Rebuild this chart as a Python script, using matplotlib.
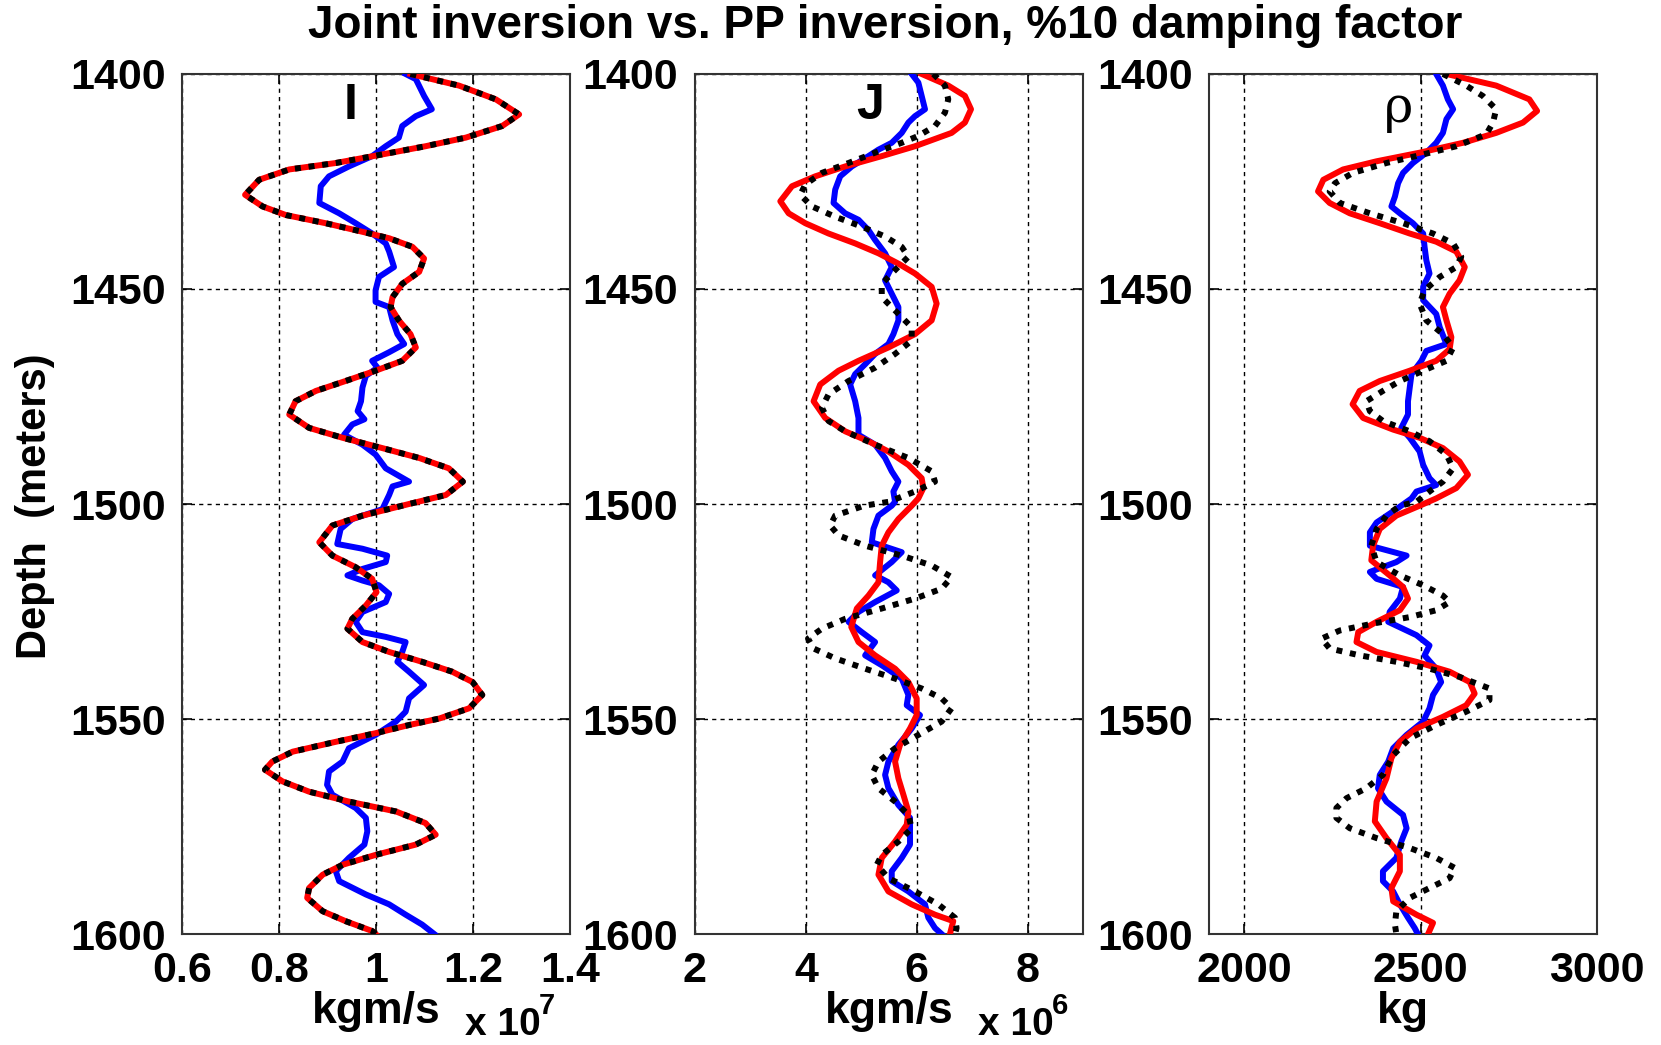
import numpy as np
import matplotlib
matplotlib.use('Agg')
import matplotlib.pyplot as plt

plt.rcParams['font.family'] = ['Liberation Sans', 'DejaVu Sans']
plt.rcParams['font.weight'] = 'bold'

# ---------------- panel I (x 10^7 kgm/s) ----------------
i_depth_inv = [1400.0, 1402.7, 1405.9, 1409.4, 1412.1, 1414.8, 1416.8, 1418.7, 1420.7, 1422.2,
               1424.6, 1428.1, 1430.8, 1432.8, 1434.7, 1436.7, 1438.2, 1440.2, 1442.9, 1446.0,
               1448.8, 1451.9, 1454.2, 1457.3, 1460.5, 1463.6, 1466.7, 1469.0, 1471.4, 1473.7,
               1476.1, 1479.2, 1482.3, 1484.6, 1487.0, 1489.3, 1491.7, 1494.8, 1497.9, 1500.0,
               1502.7, 1505.0, 1508.9, 1512.0, 1514.7, 1517.4, 1520.5, 1523.6, 1526.7, 1529.0,
               1532.1, 1534.4, 1536.7, 1539.0, 1541.4, 1544.4, 1547.5, 1549.9, 1551.4, 1553.3,
               1555.3, 1557.6, 1559.9, 1561.8, 1564.5, 1566.9, 1569.2, 1571.5, 1574.2, 1576.9,
               1579.2, 1581.6, 1583.9, 1586.2, 1589.3, 1591.6, 1594.7, 1597.0, 1599.3, 1600.0]
i_joint = [1.071, 1.171, 1.247, 1.295, 1.260, 1.185, 1.102, 1.013, 0.917, 0.821,
           0.759, 0.730, 0.766, 0.814, 0.896, 0.972, 1.027, 1.075, 1.099, 1.089,
           1.054, 1.034, 1.030, 1.047, 1.071, 1.082, 1.054, 0.999, 0.937, 0.876,
           0.834, 0.821, 0.862, 0.931, 1.013, 1.089, 1.150, 1.179, 1.144, 1.068,
           0.972, 0.910, 0.883, 0.910, 0.958, 0.992, 1.001, 0.979, 0.951, 0.941,
           0.972, 1.027, 1.095, 1.157, 1.199, 1.219, 1.192, 1.130, 1.068, 0.999,
           0.917, 0.828, 0.786, 0.771, 0.807, 0.862, 0.944, 1.041, 1.102, 1.123,
           1.082, 0.999, 0.931, 0.890, 0.862, 0.858, 0.890, 0.937, 0.992, 0.999]
i_pp = list(i_joint)  # PP result sits exactly on the joint result here

i_depth_log = [1400.0, 1401.2, 1405.1, 1408.2, 1409.8, 1412.1, 1414.8, 1416.8, 1419.1, 1421.5,
               1423.8, 1426.1, 1430.0, 1432.4, 1434.7, 1437.1, 1439.4, 1441.3, 1444.9, 1447.2,
               1450.3, 1453.0, 1454.2, 1457.3, 1460.5, 1462.8, 1464.7, 1466.7, 1468.3, 1470.2,
               1472.9, 1476.1, 1478.4, 1480.3, 1481.5, 1483.9, 1486.2, 1488.5, 1491.7, 1494.8,
               1495.9, 1497.9, 1501.2, 1503.5, 1505.8, 1509.3, 1510.4, 1512.0, 1513.5, 1515.1,
               1516.6, 1517.8, 1518.9, 1520.9, 1522.8, 1525.1, 1527.4, 1529.8, 1530.9, 1532.1,
               1534.4, 1536.7, 1539.0, 1542.1, 1545.2, 1548.3, 1550.6, 1553.7, 1556.8, 1559.9,
               1562.2, 1565.3, 1567.6, 1570.7, 1573.0, 1576.1, 1579.2, 1582.3, 1585.4, 1587.7,
               1590.8, 1593.1, 1595.5, 1597.8, 1600.0]
i_log = [1.061, 1.082, 1.099, 1.115, 1.082, 1.054, 1.047, 1.020, 0.992, 0.944,
         0.903, 0.886, 0.883, 0.924, 0.958, 0.992, 1.020, 1.027, 1.037, 1.006,
         0.999, 0.999, 1.027, 1.034, 1.044, 1.058, 1.027, 0.992, 1.003, 0.979,
         0.972, 0.969, 0.962, 0.976, 0.951, 0.934, 0.972, 0.999, 1.020, 1.068,
         1.034, 1.027, 1.013, 0.951, 0.927, 0.920, 0.972, 1.023, 1.020, 0.972,
         0.941, 0.972, 1.006, 1.027, 1.020, 0.972, 0.958, 0.972, 1.020, 1.061,
         1.054, 1.044, 1.068, 1.099, 1.068, 1.061, 1.041, 0.999, 0.944, 0.931,
         0.903, 0.899, 0.910, 0.958, 0.979, 0.982, 0.976, 0.944, 0.917, 0.924,
         0.979, 1.027, 1.061, 1.095, 1.120]

# ---------------- panel J (x 10^6 kgm/s) ----------------
j_depth_joint = [1400.0, 1402.7, 1405.1, 1408.2, 1411.3, 1413.7, 1416.8, 1419.1, 1421.5, 1423.8,
                 1426.1, 1429.6, 1432.4, 1434.7, 1437.1, 1439.4, 1441.7, 1444.1, 1446.4, 1449.5,
                 1453.4, 1457.3, 1460.5, 1463.6, 1466.7, 1469.0, 1472.2, 1476.1, 1480.0, 1483.1,
                 1485.4, 1487.8, 1490.9, 1494.0, 1496.3, 1498.7, 1500.4, 1503.5, 1506.6, 1509.7,
                 1513.5, 1518.2, 1521.3, 1524.3, 1528.6, 1532.1, 1535.2, 1538.3, 1541.4, 1545.2,
                 1549.1, 1552.2, 1556.0, 1559.9, 1563.8, 1567.6, 1571.5, 1574.6, 1578.5, 1582.3,
                 1586.2, 1590.1, 1593.1, 1595.5, 1597.0, 1600.0]
j_joint = [6.09, 6.57, 6.87, 6.98, 6.87, 6.63, 5.97, 5.37, 4.71, 4.17,
           3.75, 3.54, 3.69, 3.99, 4.41, 4.89, 5.31, 5.67, 5.97, 6.27,
           6.36, 6.27, 5.97, 5.49, 4.95, 4.59, 4.26, 4.14, 4.35, 4.71,
           5.13, 5.49, 5.85, 6.09, 6.12, 6.03, 5.91, 5.67, 5.49, 5.37,
           5.34, 5.31, 5.13, 4.92, 4.82, 4.95, 5.25, 5.61, 5.85, 6.00,
           6.00, 5.88, 5.70, 5.61, 5.67, 5.76, 5.85, 5.82, 5.61, 5.37,
           5.31, 5.49, 5.91, 6.33, 6.66, 6.60]

j_depth_pp = [1400.0, 1402.7, 1405.9, 1409.0, 1412.1, 1414.4, 1416.0, 1418.3, 1420.7, 1423.0,
              1425.7, 1428.1, 1430.8, 1433.2, 1435.5, 1437.8, 1440.2, 1442.5, 1445.6, 1448.8,
              1451.9, 1455.0, 1458.9, 1462.0, 1465.1, 1468.3, 1471.4, 1474.5, 1477.6, 1480.7,
              1483.1, 1486.2, 1489.3, 1492.4, 1494.8, 1497.1, 1499.5, 1500.4, 1502.7, 1505.0,
              1507.3, 1509.7, 1512.0, 1514.3, 1517.0, 1519.7, 1522.0, 1524.3, 1526.7, 1529.0,
              1531.3, 1533.6, 1535.9, 1538.3, 1540.6, 1542.9, 1545.2, 1547.5, 1550.6, 1553.7,
              1556.8, 1559.9, 1563.0, 1566.1, 1569.2, 1572.3, 1575.4, 1578.5, 1581.6, 1583.9,
              1587.0, 1590.1, 1593.1, 1596.2, 1598.6, 1600.0]
j_pp = [6.30, 6.51, 6.57, 6.51, 6.33, 6.03, 5.73, 5.25, 4.77, 4.29,
        3.99, 3.90, 4.11, 4.53, 5.01, 5.43, 5.73, 5.85, 5.61, 5.37,
        5.37, 5.61, 5.91, 5.91, 5.61, 5.25, 4.77, 4.41, 4.29, 4.41,
        4.71, 5.25, 5.85, 6.27, 6.33, 5.97, 5.49, 5.05, 4.53, 4.44,
        4.59, 5.07, 5.73, 6.27, 6.63, 6.45, 5.97, 5.37, 4.71, 4.29,
        4.04, 4.14, 4.53, 5.07, 5.61, 6.09, 6.45, 6.63, 6.45, 6.03,
        5.61, 5.31, 5.19, 5.31, 5.61, 5.85, 5.91, 5.67, 5.37, 5.28,
        5.49, 5.97, 6.39, 6.69, 6.72, 6.69]

j_depth_log = [1400.0, 1402.0, 1405.1, 1408.2, 1409.8, 1411.3, 1413.7, 1416.0, 1417.6, 1419.1,
               1421.5, 1423.8, 1426.9, 1430.0, 1432.4, 1433.9, 1436.3, 1438.6, 1441.7, 1444.9,
               1448.0, 1451.1, 1454.2, 1457.3, 1460.5, 1462.8, 1465.1, 1467.5, 1469.8, 1472.2,
               1476.1, 1480.0, 1483.9, 1486.2, 1489.3, 1492.4, 1494.8, 1497.1, 1499.5, 1500.4,
               1502.7, 1505.8, 1508.9, 1511.2, 1513.5, 1516.6, 1518.2, 1520.1, 1522.8, 1525.1,
               1527.4, 1529.8, 1532.1, 1535.2, 1537.5, 1540.6, 1544.4, 1546.8, 1549.1, 1552.2,
               1556.0, 1559.9, 1563.0, 1566.1, 1570.0, 1573.0, 1576.1, 1579.2, 1582.3, 1585.4,
               1587.7, 1590.1, 1593.1, 1596.2, 1598.6, 1600.0]
j_log = [5.91, 6.03, 6.09, 6.15, 5.97, 5.85, 5.73, 5.55, 5.31, 5.13,
         4.83, 4.62, 4.53, 4.50, 4.71, 4.95, 5.13, 5.25, 5.43, 5.55,
         5.43, 5.55, 5.67, 5.67, 5.58, 5.49, 5.25, 5.07, 4.89, 4.80,
         4.89, 4.95, 4.95, 5.25, 5.43, 5.55, 5.67, 5.58, 5.61, 5.55,
         5.31, 5.22, 5.19, 5.73, 5.55, 5.25, 5.49, 5.64, 5.25, 4.95,
         4.77, 5.01, 5.25, 5.07, 5.37, 5.73, 5.85, 5.82, 6.06, 5.91,
         5.67, 5.49, 5.43, 5.49, 5.67, 5.88, 5.88, 5.88, 5.73, 5.55,
         5.55, 5.85, 6.15, 6.21, 6.33, 6.45]

# ---------------- panel rho (kg) ----------------
r_depth_joint = [1400.0, 1402.7, 1405.9, 1408.6, 1411.3, 1413.7, 1416.0, 1418.3, 1420.3, 1422.2,
                 1424.6, 1427.3, 1430.0, 1432.4, 1434.7, 1437.1, 1439.0, 1441.3, 1444.9, 1448.0,
                 1451.1, 1454.2, 1457.3, 1461.2, 1464.0, 1466.7, 1469.0, 1471.4, 1473.7, 1476.8,
                 1480.0, 1482.7, 1484.6, 1487.0, 1490.1, 1493.2, 1496.3, 1498.7, 1500.4, 1502.7,
                 1505.8, 1509.7, 1513.1, 1516.6, 1519.3, 1522.0, 1524.7, 1527.4, 1529.8, 1532.1,
                 1534.4, 1536.7, 1539.0, 1541.4, 1544.1, 1546.8, 1549.5, 1552.2, 1555.3, 1559.1,
                 1563.8, 1569.2, 1573.8, 1577.7, 1581.6, 1585.4, 1589.3, 1592.4, 1595.5, 1597.4,
                 1600.0]
r_joint = [2573, 2714, 2808, 2830, 2790, 2714, 2620, 2497, 2375, 2280,
           2224, 2209, 2242, 2299, 2384, 2469, 2544, 2601, 2625, 2610,
           2582, 2563, 2573, 2587, 2582, 2544, 2469, 2384, 2327, 2307,
           2337, 2422, 2497, 2563, 2610, 2634, 2601, 2544, 2497, 2431,
           2384, 2365, 2360, 2412, 2450, 2464, 2441, 2375, 2323, 2318,
           2375, 2488, 2582, 2639, 2653, 2629, 2563, 2488, 2441, 2417,
           2403, 2375, 2370, 2403, 2441, 2441, 2417, 2422, 2488, 2535,
           2521]

r_depth_pp = [1400.0, 1402.7, 1405.1, 1408.2, 1411.3, 1414.0, 1416.8, 1418.7, 1420.7, 1423.0,
              1425.4, 1427.3, 1430.0, 1432.4, 1434.7, 1437.1, 1439.4, 1442.5, 1444.9, 1447.2,
              1450.3, 1453.4, 1457.3, 1460.5, 1463.6, 1466.7, 1469.0, 1471.4, 1473.7, 1476.1,
              1478.4, 1480.7, 1483.1, 1485.4, 1488.5, 1491.7, 1494.8, 1497.1, 1499.5, 1500.4,
              1502.7, 1505.8, 1509.7, 1513.5, 1516.6, 1518.9, 1521.3, 1522.8, 1524.7, 1526.3,
              1527.8, 1529.4, 1531.3, 1533.6, 1535.2, 1536.7, 1538.3, 1540.2, 1542.9, 1545.6,
              1548.3, 1551.4, 1554.5, 1558.4, 1563.0, 1566.1, 1568.4, 1570.7, 1573.0, 1575.4,
              1577.7, 1580.0, 1582.3, 1584.6, 1587.0, 1589.3, 1591.6, 1594.7, 1597.8, 1600.0]
r_pp = [2563, 2629, 2676, 2714, 2705, 2686, 2601, 2507, 2403, 2308,
        2257, 2242, 2271, 2356, 2450, 2535, 2592, 2615, 2601, 2554,
        2511, 2497, 2516, 2563, 2592, 2573, 2507, 2441, 2393, 2346,
        2356, 2393, 2469, 2525, 2573, 2592, 2563, 2525, 2488, 2441,
        2403, 2375, 2360, 2375, 2441, 2507, 2563, 2582, 2544, 2469,
        2365, 2271, 2219, 2242, 2327, 2431, 2525, 2610, 2695, 2695,
        2629, 2544, 2469, 2422, 2393, 2346, 2290, 2261, 2261, 2299,
        2375, 2469, 2544, 2596, 2582, 2525, 2469, 2431, 2427, 2431]

r_depth_log = [1400.0, 1402.7, 1405.9, 1408.2, 1410.5, 1413.7, 1416.0, 1418.3, 1420.7, 1423.0,
               1425.4, 1428.5, 1430.8, 1432.4, 1434.7, 1437.1, 1440.2, 1443.3, 1446.4, 1449.5,
               1452.6, 1455.8, 1458.9, 1462.8, 1464.4, 1466.7, 1469.8, 1472.9, 1476.1, 1479.2,
               1482.3, 1484.6, 1487.8, 1490.9, 1494.0, 1495.6, 1497.1, 1498.7, 1501.2, 1504.3,
               1506.6, 1509.7, 1512.0, 1513.5, 1515.8, 1517.4, 1519.3, 1522.0, 1525.1, 1527.4,
               1530.5, 1532.9, 1535.2, 1538.3, 1541.4, 1544.4, 1547.5, 1550.6, 1553.7, 1556.8,
               1559.9, 1563.0, 1566.1, 1569.2, 1572.3, 1575.4, 1578.5, 1582.3, 1585.4, 1587.7,
               1590.1, 1593.1, 1596.2, 1598.6, 1600.0]
r_log = [2544, 2563, 2577, 2592, 2573, 2563, 2544, 2516, 2478, 2450,
         2436, 2427, 2417, 2441, 2478, 2507, 2511, 2516, 2525, 2507,
         2507, 2544, 2554, 2573, 2516, 2502, 2474, 2469, 2464, 2464,
         2445, 2469, 2497, 2507, 2525, 2544, 2488, 2474, 2431, 2375,
         2356, 2356, 2460, 2431, 2356, 2375, 2450, 2441, 2412, 2408,
         2488, 2525, 2511, 2544, 2558, 2535, 2525, 2507, 2460, 2422,
         2408, 2384, 2379, 2403, 2450, 2460, 2445, 2431, 2393, 2393,
         2422, 2441, 2464, 2483, 2492]

panels = [
    dict(log=(i_log, i_depth_log), joint=(i_joint, i_depth_inv), pp=(i_pp, i_depth_inv),
         xlim=(0.6, 1.4), xticks=[0.6, 0.8, 1, 1.2, 1.4], xtl=['0.6', '0.8', '1', '1.2', '1.4'],
         label='I', lx=0.948, xlabel='kgm/s', exp='7', left=0.1096),
    dict(log=(j_log, j_depth_log), joint=(j_joint, j_depth_joint), pp=(j_pp, j_depth_pp),
         xlim=(2, 9), xticks=[2, 4, 6, 8], xtl=['2', '4', '6', '8'],
         label='J', lx=5.16, xlabel='kgm/s', exp='6', left=0.4184),
    dict(log=(r_log, r_depth_log), joint=(r_joint, r_depth_joint), pp=(r_pp, r_depth_pp),
         xlim=(1900, 3000), xticks=[2000, 2500, 3000], xtl=['2000', '2500', '3000'],
         label='\u03c1', lx=2436, xlabel='kg', exp=None, left=0.7279),
]

fig = plt.figure(figsize=(16.61, 10.45), dpi=100)

for p in panels:
    ax = fig.add_axes([p['left'], 0.1062, 0.2336, 0.823])
    ax.plot(p['log'][0], p['log'][1], color='#0000ff', lw=4.3, zorder=3,
            solid_joinstyle='round')
    ax.plot(p['joint'][0], p['joint'][1], color='#ff0000', lw=4.3, zorder=4,
            solid_joinstyle='round')
    ax.plot(p['pp'][0], p['pp'][1], color='black', lw=4.3, ls=(0, (1, 1.3)), zorder=5)

    ax.set_xlim(*p['xlim'])
    ax.set_ylim(1600, 1400)
    ax.set_xticks(p['xticks'])
    ax.set_xticklabels(p['xtl'])
    ax.set_yticks([1400, 1450, 1500, 1550, 1600])
    ax.grid(True, color='black', ls=(0, (3, 3)), lw=1.0)
    ax.tick_params(direction='in', length=7, width=1.2, top=True, right=True,
                   labelsize=31, pad=12)
    for lab in ax.get_xticklabels() + ax.get_yticklabels():
        lab.set_fontweight('bold')
    for s in ax.spines.values():
        s.set_color('#333333')
        s.set_linewidth(1.5)

    if p['label'] == '\u03c1':
        ax.text(p['lx'], 1408, p['label'], fontsize=36, fontweight='normal',
                family=['DejaVu Serif'], ha='center', va='center', zorder=6)
    else:
        ax.text(p['lx'], 1407.5, p['label'], fontsize=36, fontweight='bold',
                ha='center', va='center', zorder=6)

    ax.set_xlabel(p['xlabel'], fontsize=32, fontweight='bold', labelpad=0)
    if p['exp']:
        ax.text(0.73, -0.106, 'x 10', transform=ax.transAxes, fontsize=28,
                fontweight='bold', ha='left', va='center')
        ax.text(0.92, -0.084, p['exp'], transform=ax.transAxes, fontsize=21,
                fontweight='bold', ha='left', va='center')

fig.text(0.533, 0.975, 'Joint inversion vs. PP inversion, %10 damping factor',
         fontsize=33, fontweight='bold', ha='center', va='center')
fig.text(0.021, 0.516, 'Depth  (meters)', fontsize=30, fontweight='bold',
         rotation=90, ha='center', va='center')

fig.savefig('out.png', dpi=100)
